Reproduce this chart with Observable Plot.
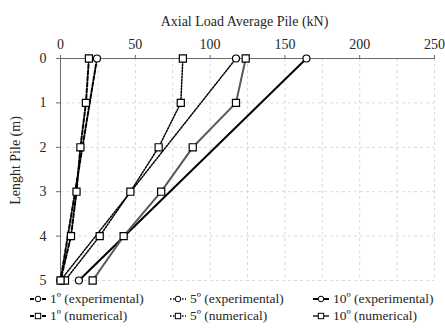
<!DOCTYPE html>
<html><head><meta charset="utf-8">
<script src="https://cdn.jsdelivr.net/npm/d3@7"></script>
<script src="https://cdn.jsdelivr.net/npm/@observablehq/plot@0.6"></script>
<style>
body{margin:0;background:#fff;font-family:'Liberation Serif',serif;}
#wrap{position:relative;width:445px;height:329px;overflow:hidden}
#wrap svg.plot{display:block}
#wrap svg text{font-family:'Liberation Serif',serif}
.leg{position:absolute;display:flex;align-items:center;font-family:'Liberation Serif',serif;font-size:13.5px;line-height:16px;height:16px;color:#262626;white-space:nowrap}
.leg svg{margin-right:4px}
</style></head><body><div id="wrap"></div>
<script>
// ---- data ----
const depthNum = [0, 1, 2, 3, 4, 5];
const num1 = [19, 17, 13.3, 10.7, 7, 0];
const num5 = [81.8, 80.4, 65.6, 46.7, 26.2, 3];
const num10 = [123.8, 117.3, 88.4, 67.3, 42.2, 21.5];
const depthExp = [0, 5];
const exp1 = [24.4, 0];
const exp5 = [117.3, 0];
const exp10 = [164.4, 12.3];
const xTicks = [0, 50, 100, 150, 200, 250];
const yTicks = [0, 1, 2, 3, 4, 5];
const seriesLabels = ["1º (experimental)", "5º (experimental)", "10º (experimental)",
                      "1º (numerical)", "5º (numerical)", "10º (numerical)"];

const styles = {
  "1º (experimental)": {stroke: "#000", dash: "4,2", width: 2, symbol: "circle"},
  "5º (experimental)": {stroke: "#000", dash: "1.5,1.5", width: 1.5, symbol: "circle"},
  "10º (experimental)": {stroke: "#000", dash: null, width: 2, symbol: "circle"},
  "1º (numerical)": {stroke: "#000", dash: "4,2", width: 2, symbol: "square"},
  "5º (numerical)": {stroke: "#000", dash: "1.5,1.5", width: 1.5, symbol: "square"},
  "10º (numerical)": {stroke: "#595959", dash: null, width: 2, symbol: "square"}
};

const seriesValues = {
  "1º (experimental)": [depthExp, exp1],
  "5º (experimental)": [depthExp, exp5],
  "10º (experimental)": [depthExp, exp10],
  "1º (numerical)": [depthNum, num1],
  "5º (numerical)": [depthNum, num5],
  "10º (numerical)": [depthNum, num10]
};

const rows = [];
for (const s of seriesLabels) {
  const [d, v] = seriesValues[s];
  d.forEach((dd, i) => rows.push({series: s, depth: dd, load: v[i]}));
}

const lineMarks = [];
const dotMarks = [];
const drawOrder = ["10º (experimental)", "10º (numerical)", "5º (experimental)", "5º (numerical)", "1º (experimental)", "1º (numerical)"];
for (const s of drawOrder) {
  const st = styles[s];
  const data = rows.filter(r => r.series === s);
  lineMarks.push(Plot.line(data, {x: "load", y: "depth", stroke: st.stroke, strokeWidth: st.width,
    strokeDasharray: st.dash || undefined}));
}
for (const s of drawOrder) {
  const st = styles[s];
  const data = rows.filter(r => r.series === s);
  dotMarks.push(Plot.dot(data, {x: "load", y: "depth", symbol: st.symbol,
    r: st.symbol === "square" ? 4 : 3.5, fill: "white", stroke: "#000", strokeWidth: 1.2}));
}

const chart = Plot.plot({
  width: 445,
  height: 290,
  marginLeft: 60,
  marginRight: 11,
  marginTop: 58,
  marginBottom: 10,
  style: {fontFamily: "'Liberation Serif', serif", fontSize: "14px", color: "#262626", background: "white"},
  x: {domain: [0, 250]},
  y: {domain: [0, 5], reverse: true},
  marks: [
    Plot.gridX(d3.range(0, 251, 25), {stroke: "#d9d9d9", strokeOpacity: 1, strokeDasharray: "3,3"}),
    Plot.gridY(yTicks, {stroke: "#d9d9d9", strokeOpacity: 1, strokeDasharray: "3,3"}),
    Plot.ruleY([0], {stroke: "#6b6b6b", strokeWidth: 1}),
    Plot.ruleX([0], {stroke: "#6b6b6b", strokeWidth: 1}),
    Plot.axisX({anchor: "top", ticks: xTicks, tickFormat: d3.format("d"), tickSize: 4, tickPadding: 6, stroke: "#6b6b6b", fontSize: 14, label: null}),
    Plot.axisY({anchor: "left", ticks: yTicks, tickFormat: d3.format("d"), tickSize: 4, tickPadding: 10, stroke: "#6b6b6b", fontSize: 14, label: null}),
    ...lineMarks,
    ...dotMarks,
    Plot.text(["Axial Load Average Pile (kN)"], {frameAnchor: "top", dx: -3, dy: -42, fontSize: 14, fill: "#262626"}),
    Plot.text(["Lenght Pile (m)"], {frameAnchor: "left", textAnchor: "middle", dx: -45, dy: -9, rotate: -90, fontSize: 14, fill: "#262626"})
  ]
});
const wrap = document.getElementById("wrap");
wrap.appendChild(chart);

const legendPos = [
  {left: 30, top: 291}, {left: 170, top: 291}, {left: 313, top: 291},
  {left: 30, top: 308}, {left: 170, top: 308}, {left: 313, top: 308}
];
seriesLabels.forEach((s, i) => {
  const st = styles[s];
  const div = document.createElement("div");
  div.className = "leg";
  div.style.left = legendPos[i].left + "px";
  div.style.top = legendPos[i].top + "px";
  const ns = "http://www.w3.org/2000/svg";
  const svg = document.createElementNS(ns, "svg");
  svg.setAttribute("width", 16); svg.setAttribute("height", 10);
  const ln = document.createElementNS(ns, "line");
  ln.setAttribute("x1", 0); ln.setAttribute("x2", 16); ln.setAttribute("y1", 5); ln.setAttribute("y2", 5);
  ln.setAttribute("stroke", st.stroke); ln.setAttribute("stroke-width", st.width);
  if (st.dash) ln.setAttribute("stroke-dasharray", st.dash);
  svg.appendChild(ln);
  let m;
  if (st.symbol === "circle") {
    m = document.createElementNS(ns, "circle");
    m.setAttribute("cx", 8); m.setAttribute("cy", 5); m.setAttribute("r", 2.8);
  } else {
    m = document.createElementNS(ns, "rect");
    m.setAttribute("x", 5.3); m.setAttribute("y", 2.3); m.setAttribute("width", 5.4); m.setAttribute("height", 5.4);
  }
  m.setAttribute("fill", "white"); m.setAttribute("stroke", "#000"); m.setAttribute("stroke-width", 1);
  svg.appendChild(m);
  div.appendChild(svg);
  const t = document.createElement("span");
  t.textContent = s;
  div.appendChild(t);
  wrap.appendChild(div);
});
</script></body></html>
